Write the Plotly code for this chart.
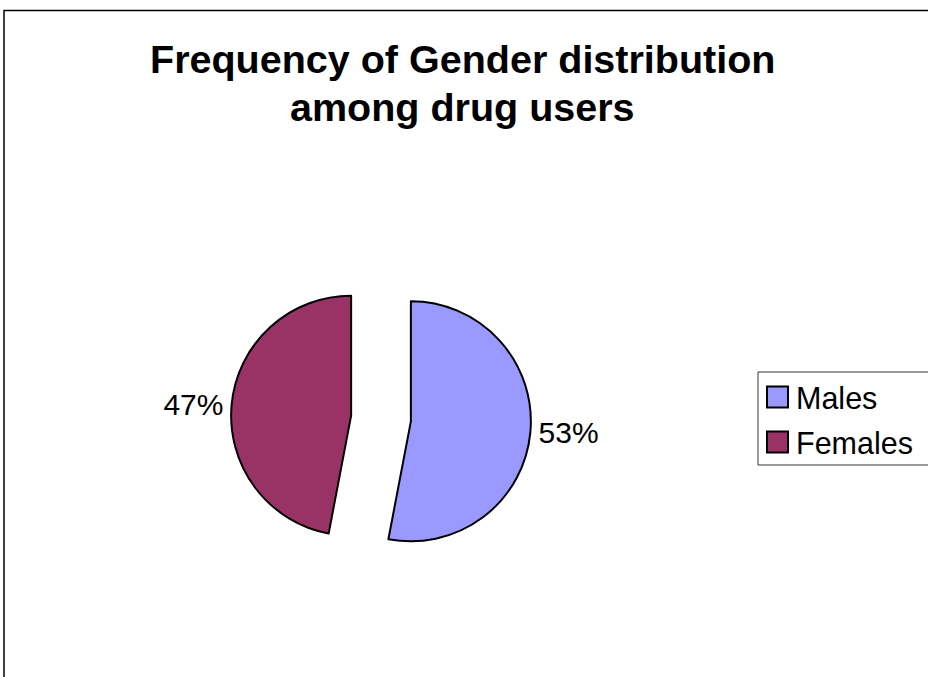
import plotly.graph_objects as go

W, H = 928, 677

# data
categories = ["Males", "Females"]
shares = [53, 47]
colors = ["#9999FF", "#993366"]
title_lines = ["Frequency of Gender distribution", "among drug users"]

FONT = "Arial, Liberation Sans, sans-serif"


def fx(px):
    return px / W


def fy(py):
    return 1 - py / H


fig = go.Figure()

fig.add_trace(go.Pie(
    labels=categories,
    values=shares,
    sort=False,
    direction="clockwise",
    rotation=0,
    pull=[0.25, 0.25],
    marker=dict(colors=colors, line=dict(color="black", width=2)),
    textinfo="percent",
    textposition="outside",
    outsidetextfont=dict(family=FONT, size=30, color="black"),
    showlegend=False,
    hoverinfo="label+percent",
    domain=dict(x=[fx(231), fx(531)], y=[fy(568.5), fy(268.5)]),
))

shapes = [
    # chart area frame (open at the right and bottom edges of the page)
    dict(type="rect", xref="paper", yref="paper",
         x0=fx(4), x1=fx(W + 20), y0=fy(H + 20), y1=fy(10.5),
         line=dict(color="black", width=1.5), fillcolor="rgba(0,0,0,0)"),
    # legend box
    dict(type="rect", xref="paper", yref="paper",
         x0=fx(758), x1=fx(W + 20), y0=fy(465), y1=fy(372),
         line=dict(color="#333333", width=1), fillcolor="white"),
]

# two-line bold title, one annotation per line for tighter line spacing
annotations = []
for line, cy in zip(title_lines, [59, 106.5]):
    annotations.append(dict(text=f"<b>{line}</b>", xref="paper", yref="paper",
                            x=fx(462), y=fy(cy), xanchor="center", yanchor="middle",
                            showarrow=False,
                            font=dict(family=FONT, size=39.5, color="black")))

# legend entries
row_centers = [397, 442]
for name, col, cy in zip(categories, colors, row_centers):
    shapes.append(dict(type="rect", xref="paper", yref="paper",
                       x0=fx(767), x1=fx(788), y0=fy(cy + 10.5), y1=fy(cy - 10.5),
                       line=dict(color="black", width=2), fillcolor=col))
    annotations.append(dict(text=name, xref="paper", yref="paper",
                            x=fx(794), y=fy(cy + 0.5), xanchor="left", yanchor="middle",
                            showarrow=False,
                            font=dict(family=FONT, size=30.5, color="black")))

fig.update_layout(
    width=W, height=H,
    margin=dict(l=0, r=0, t=0, b=0),
    paper_bgcolor="white",
    plot_bgcolor="white",
    shapes=shapes,
    annotations=annotations,
)

fig.write_html("out.html")
